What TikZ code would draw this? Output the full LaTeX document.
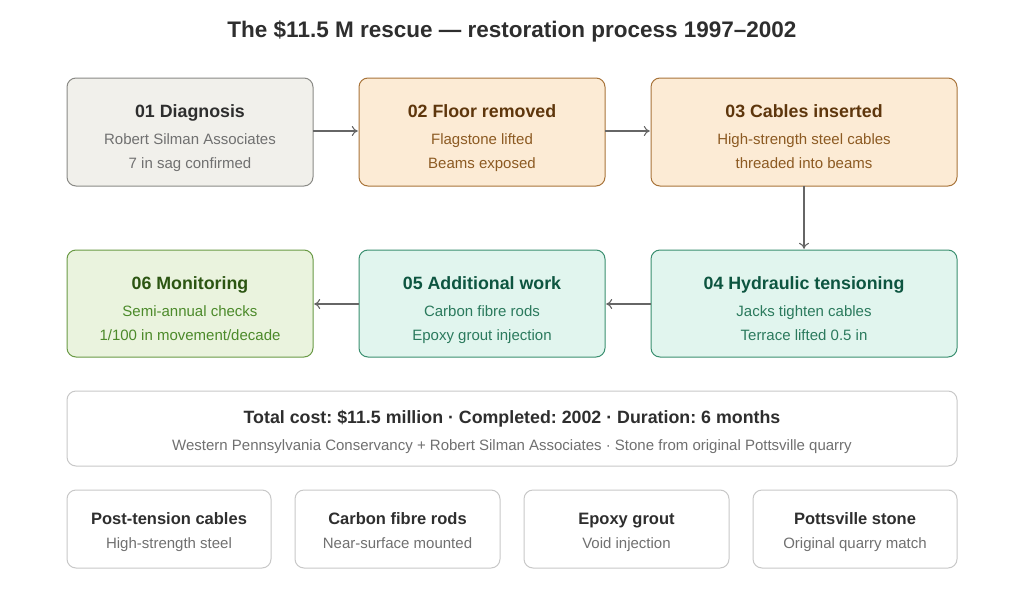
\documentclass[tikz,border=0pt]{standalone}
\usepackage{fontspec}
\setmainfont{Liberation Sans}
\usetikzlibrary{arrows.meta}
\frenchspacing
\definecolor{grayfill}{HTML}{F1F0EB}
\definecolor{graydraw}{HTML}{8A8A86}
\definecolor{graytitle}{HTML}{2E2E2E}
\definecolor{graytext}{HTML}{707070}
\definecolor{orfill}{HTML}{FCEBD5}
\definecolor{ordraw}{HTML}{A8743A}
\definecolor{ortitle}{HTML}{5E360C}
\definecolor{ortext}{HTML}{8C5A22}
\definecolor{tlfill}{HTML}{E1F5EE}
\definecolor{tldraw}{HTML}{3A8F70}
\definecolor{tltitle}{HTML}{0D5540}
\definecolor{tltext}{HTML}{2B7A5D}
\definecolor{grfill}{HTML}{EAF3DE}
\definecolor{grdraw}{HTML}{6A9A45}
\definecolor{grtitle}{HTML}{2C5512}
\definecolor{grtext}{HTML}{4C8A2A}
\definecolor{lightdraw}{HTML}{C8C8C8}
\definecolor{arrowc}{HTML}{666666}
\tikzset{
  x=1pt,y=-1pt,
  card/.style={rounded corners=9pt, line width=1pt},
  ttl/.style={anchor=mid, font=\fontsize{17.8}{20}\selectfont\bfseries},
  sub/.style={anchor=mid, font=\fontsize{15}{18}\selectfont},
  conn/.style={arrowc, line width=1.1pt, -{To[length=6pt,width=10pt]}},
}
\begin{document}
\begin{tikzpicture}
\useasboundingbox[fill=white] (0,0) rectangle (1024,602);
\node[anchor=mid, font=\fontsize{22.5}{26}\selectfont\bfseries, text=graytitle] (title) at (512,35) {The \$11.5 M rescue — restoration process 1997–2002};

% row 1
\draw[card, fill=grayfill, draw=graydraw] (67,78) rectangle (313,186);
\node (b1) at (190,132) [minimum width=246, minimum height=108] {};
\node[ttl, text=graytitle] at (190,115) {01 Diagnosis};
\node[sub, text=graytext] at (190,142) {Robert Silman Associates};
\node[sub, text=graytext] at (190,166) {7 in sag confirmed};

\draw[card, fill=orfill, draw=ordraw] (359,78) rectangle (605,186);
\node (b2) at (482,132) [minimum width=246, minimum height=108] {};
\node[ttl, text=ortitle] at (482,115) {02 Floor removed};
\node[sub, text=ortext] at (482,142) {Flagstone lifted};
\node[sub, text=ortext] at (482,166) {Beams exposed};

\draw[card, fill=orfill, draw=ordraw] (651,78) rectangle (957,186);
\node (b3) at (804,132) [minimum width=306, minimum height=108] {};
\node[ttl, text=ortitle] at (804,115) {03 Cables inserted};
\node[sub, text=ortext] at (804,142) {High-strength steel cables};
\node[sub, text=ortext] at (804,166) {threaded into beams};

% row 2
\draw[card, fill=tlfill, draw=tldraw] (651,250) rectangle (957,357);
\node (b4) at (804,303.5) [minimum width=306, minimum height=107] {};
\node[ttl, text=tltitle] at (804,287) {04 Hydraulic tensioning};
\node[sub, text=tltext] at (804,314) {Jacks tighten cables};
\node[sub, text=tltext] at (804,338) {Terrace lifted 0.5 in};

\draw[card, fill=tlfill, draw=tldraw] (359,250) rectangle (605,357);
\node (b5) at (482,303.5) [minimum width=246, minimum height=107] {};
\node[ttl, text=tltitle] at (482,287) {05 Additional work};
\node[sub, text=tltext] at (482,314) {Carbon fibre rods};
\node[sub, text=tltext] at (482,338) {Epoxy grout injection};

\draw[card, fill=grfill, draw=grdraw] (67,250) rectangle (313,357);
\node (b6) at (190,303.5) [minimum width=246, minimum height=107] {};
\node[ttl, text=grtitle] at (190,287) {06 Monitoring};
\node[sub, text=grtext] at (190,314) {Semi-annual checks};
\node[sub, text=grtext] at (190,338) {1/100 in movement/decade};

% connectors
\draw[conn] (b1.east |- 0,131) -- ([xshift=-1pt]b2.west |- 0,131);
\draw[conn] (b2.east |- 0,131) -- ([xshift=-1pt]b3.west |- 0,131);
\draw[conn] (b3.south) -- ([yshift=1pt]b4.north);
\draw[conn] (b4.west |- 0,304) -- ([xshift=1pt]b5.east |- 0,304);
\draw[conn] (b5.west |- 0,304) -- ([xshift=1pt]b6.east |- 0,304);

% summary
\draw[card, fill=white, draw=lightdraw] (67,391) rectangle (957,466);
\node (sum) at (512,428.5) [minimum width=890, minimum height=75] {};
\node[anchor=mid, font=\fontsize{17.8}{20}\selectfont\bfseries, text=graytitle] at (512,421) {Total cost: \$11.5 million · Completed: 2002 · Duration: 6 months};
\node[anchor=mid, font=\fontsize{15}{18}\selectfont, text=graytext] at (512,448) {Western Pennsylvania Conservancy + Robert Silman Associates · Stone from original Pottsville quarry};

% bottom cards
\foreach \n/\xa/\xb/\t/\s in {c1/67/271/Post-tension cables/High-strength steel, c2/295/500/Carbon fibre rods/Near-surface mounted, c3/524/729/Epoxy grout/Void injection, c4/753/957/Pottsville stone/Original quarry match}{
  \draw[card, fill=white, draw=lightdraw] (\xa,490) rectangle (\xb,568);
  \node (\n) at ({(\xa+\xb)/2},529) [minimum width=204, minimum height=78] {};
  \node[anchor=mid, font=\fontsize{16.5}{19}\selectfont\bfseries, text=graytitle] at ({(\xa+\xb)/2},522) {\t};
  \node[anchor=mid, font=\fontsize{15}{18}\selectfont, text=graytext] at ({(\xa+\xb)/2},546) {\s};
}
\end{tikzpicture}
\end{document}
